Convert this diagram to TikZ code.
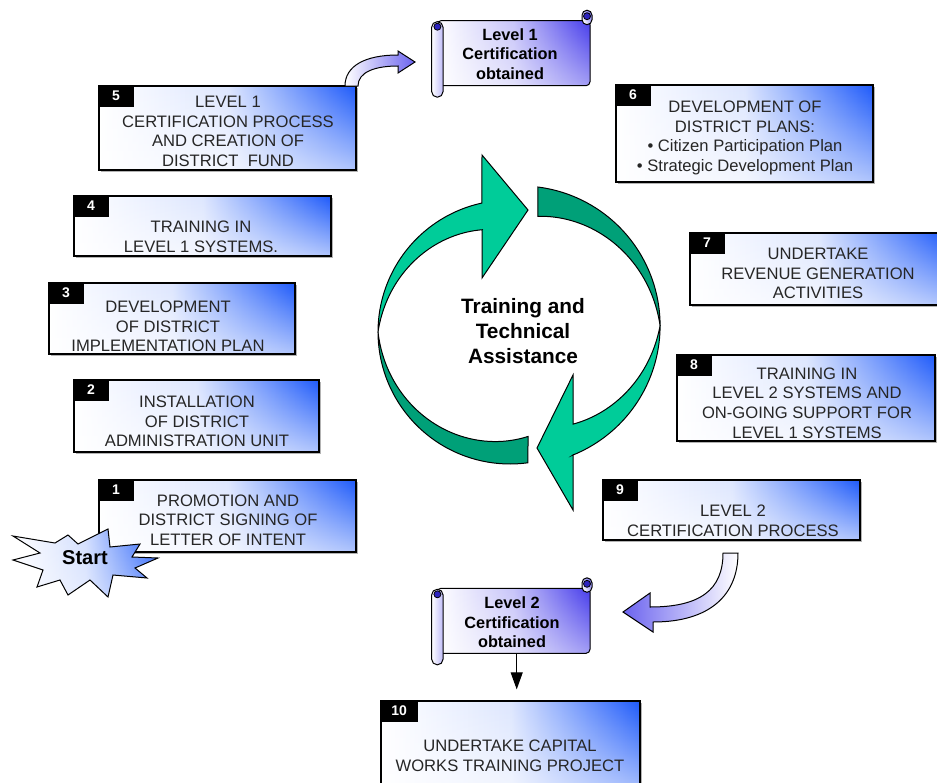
\documentclass[tikz,border=0pt]{standalone}
\usepackage{fontspec}
\setmainfont{Liberation Sans}
\usetikzlibrary{arrows.meta,shadows,fadings}

\definecolor{boxblue}{RGB}{30,90,250}
\definecolor{scrollblue}{RGB}{70,60,235}
\definecolor{rollblue}{RGB}{45,35,190}
\definecolor{lightgreen}{RGB}{0,204,153}
\definecolor{darkgreen}{RGB}{0,160,120}

\tikzset{
	whitefade/.style={path picture={\fill[white, fill opacity=#1, path fading=north]
		(path picture bounding box.south west) rectangle (path picture bounding box.north east);}},
	stepbox/.style={draw=black, line width=1.3pt, left color=white, right color=boxblue, middle color=boxblue!15, whitefade=0.65,
		drop shadow={shadow xshift=1.5pt, shadow yshift=-1.5pt, opacity=0.6}, inner sep=0pt},
	steptext/.style={align=center, text=black!85, font=\fontsize{16.6}{19.7}\selectfont, inner sep=0pt},
	numtab/.style={fill=black, text=white, font=\bfseries\fontsize{14}{14}\selectfont,
		minimum width=35pt, minimum height=21pt, inner sep=0pt, anchor=north west},
	scrolltext/.style={align=center, font=\bfseries\fontsize{16.3}{19.5}\selectfont, inner sep=0pt},
	cycletext/.style={align=center, font=\bfseries\fontsize{20.8}{25}\selectfont, inner sep=0pt},
	blockarrow/.style={draw=black, line width=1pt},
	pics/scroll/.style={code={
		\shade[draw, line width=1pt, left color=white, right color=scrollblue, middle color=scrollblue!30, whitefade=0.5, rounded corners=4pt]
			(-6,0) rectangle (147,65);
		\shade[draw, line width=1pt, top color=scrollblue!70, bottom color=white, shading angle=-60, rounded corners=5pt]
			(139,-10.5) rectangle (149,4);
		\filldraw[fill=rollblue, line width=0.8pt] (144,-4.5) circle (3.5pt);
		\shade[draw, line width=1pt, left color=white, right color=scrollblue!35, rounded corners=5.5pt]
			(-11.3,1) rectangle (0,76.5);
		\filldraw[fill=rollblue, line width=0.8pt] (-5.6,6) circle (3.5pt);
		\coordinate (-b) at (73.7,65);
	}}
}

\begin{document}
\begin{tikzpicture}[x=1pt, y=-1pt]
	\path[use as bounding box, clip] (0,0) rectangle (937,782);

	% cycle in the middle
	\filldraw[fill=lightgreen, line width=1pt] (482,155) -- (528,210) -- (482,278) -- (482,229.8)
		-- plot[domain=105.3:180, samples=40, variable=\t] ({510+(132-26*(180-\t)/74.7)*cos(\t)},{332-(132-26*(180-\t)/74.7)*sin(\t)})
		-- plot[domain=180:102.3, samples=40, variable=\t] ({510+132*cos(\t)},{332-132*sin(\t)}) -- cycle;
	\filldraw[fill=darkgreen, line width=1pt]
		plot[domain=180:277.8, samples=40, variable=\t] ({510+132*cos(\t)},{332-132*sin(\t)})
		-- plot[domain=279.8:180, samples=40, variable=\t] ({510+(132-26*(\t-180)/99.8)*cos(\t)},{332-(132-26*(\t-180)/99.8)*sin(\t)}) -- cycle;
	\filldraw[fill=darkgreen, line width=1pt]
		plot[domain=82.8:0, samples=40, variable=\t] ({520.4+139.7*cos(\t)},{325.6-139.7*sin(\t)})
		-- plot[domain=0:80.9, samples=40, variable=\t] ({520.4+(139.7-29*\t/80.9)*cos(\t)},{325.6-(139.7-29*\t/80.9)*sin(\t)}) -- cycle;
	\filldraw[fill=lightgreen, line width=1pt] (573,375) -- (537,448) -- (573,510) -- (573,455)
		-- plot[domain=-67.9:0, samples=40, variable=\t] ({520.4+139.7*cos(\t)},{325.6-139.7*sin(\t)})
		-- plot[domain=0:-61.9, samples=40, variable=\t] ({520.4+(139.7+28*\t/61.9)*cos(\t)},{325.6-(139.7+28*\t/61.9)*sin(\t)}) -- cycle;
	\node[cycletext] (tta) at (523,331) {Training and\\Technical\\Assistance};

	% steps
	\node[stepbox, minimum width=257pt, minimum height=72pt] (s1) at (227.5,516) {};
	\node[steptext] (t1) at (228,520) {PROMOTION AND\\DISTRICT SIGNING OF\\LETTER OF INTENT};
	\node[numtab] (n1) at (s1.north west) {1};

	\node[stepbox, minimum width=245pt, minimum height=72pt] (s2) at (196.5,416) {};
	\node[steptext] (t2) at (197,421.5) {INSTALLATION\\OF DISTRICT\\ADMINISTRATION UNIT};
	\node[numtab] (n2) at (s2.north west) {2};

	\node[stepbox, minimum width=246pt, minimum height=71pt] (s3) at (172,318.5) {};
	\node[steptext] (t3) at (168,326.5) {DEVELOPMENT\\OF DISTRICT\\IMPLEMENTATION PLAN};
	\node[numtab] (n3) at (s3.north west) {3};

	\node[stepbox, minimum width=257pt, minimum height=60pt] (s4) at (202.5,226) {};
	\node[steptext] (t4) at (201,236.5) {TRAINING IN\\LEVEL 1 SYSTEMS.};
	\node[numtab] (n4) at (s4.north west) {4};

	\node[stepbox, minimum width=257pt, minimum height=84pt] (s5) at (227.5,128) {};
	\node[steptext] (t5) at (228,131.5) {LEVEL 1\\CERTIFICATION PROCESS\\AND CREATION OF\\DISTRICT~~FUND};
	\node[numtab] (n5) at (s5.north west) {5};

	\node[stepbox, minimum width=257pt, minimum height=97pt] (s6) at (744.5,133.5) {};
	\node[steptext] (t6) at (745,138) {DEVELOPMENT OF\\DISTRICT PLANS:\\\textbullet\ Citizen Participation Plan\\\textbullet\ Strategic Development Plan};
	\node[numtab] (n6) at (s6.north west) {6};

	\node[stepbox, minimum width=257pt, minimum height=72pt] (s7) at (818.5,269) {};
	\node[steptext] (t7) at (818,273.5) {UNDERTAKE\\REVENUE GENERATION\\ACTIVITIES};
	\node[numtab] (n7) at (s7.north west) {7};

	\node[stepbox, minimum width=258pt, minimum height=86pt] (s8) at (806,398) {};
	\node[steptext] (t8) at (807,403) {TRAINING IN\\LEVEL 2 SYSTEMS AND\\ON-GOING SUPPORT FOR\\LEVEL 1 SYSTEMS};
	\node[numtab] (n8) at (s8.north west) {8};

	\node[stepbox, minimum width=257pt, minimum height=60pt] (s9) at (731.5,510) {};
	\node[steptext] (t9) at (733,520.5) {LEVEL 2\\CERTIFICATION PROCESS};
	\node[numtab] (n9) at (s9.north west) {9};

	\node[stepbox, minimum width=259pt, minimum height=95pt] (s10) at (510.5,748.5) {};
	\node[steptext] (t10) at (510,756) {UNDERTAKE CAPITAL\\WORKS TRAINING PROJECT};
	\node[numtab, minimum width=37pt] (n10) at (s10.north west) {10};

	% certificates
	\pic (sc1) at (443,20.7) {scroll};
	\node[scrolltext] (l1) at (510,54) {Level 1\\Certification\\obtained};
	\pic (sc2) at (443,588.3) {scroll};
	\node[scrolltext] (l2) at (512,622.5) {Level 2\\Certification\\obtained};

	% curved arrows
	\shade[blockarrow, left color=white, right color=scrollblue!80] (345,86) .. controls (345,66) and (365,55) .. (398,55)
		-- (398,51) -- (415,62) -- (398,73) -- (398,66) .. controls (375,66) and (358,72) .. (358,86) -- cycle;
	\shade[blockarrow, left color=scrollblue!80, right color=white] (723,553) .. controls (723,590) and (700,607) .. (650,607)
		-- (650,593) -- (623,612) -- (653,632) -- (653,622) .. controls (710,622) and (738,595) .. (738,553) -- cycle;
	\draw[-{Triangle[length=17pt,width=12pt]}, line width=1pt, shorten >=11pt] (sc2-b) -- (sc2-b |- s10.north);

	% start
	\shade[draw, line width=1pt, left color=white, right color=boxblue, middle color=boxblue!20, whitefade=0.4]
		(13,536) -- (55,543) -- (68,535) -- (78,544) -- (108,529) -- (110,547) -- (140,544) -- (132,557) -- (158,558)
		-- (135,568) -- (147,578) -- (113,575) -- (108,597) -- (90,580) -- (68,595) -- (60,580) -- (37,587) -- (43,570)
		-- (13,560) -- (40,553) -- cycle;
	\node[font=\bfseries\fontsize{20}{20}\selectfont, inner sep=0pt] (start) at (85,558) {Start};
\end{tikzpicture}
\end{document}
